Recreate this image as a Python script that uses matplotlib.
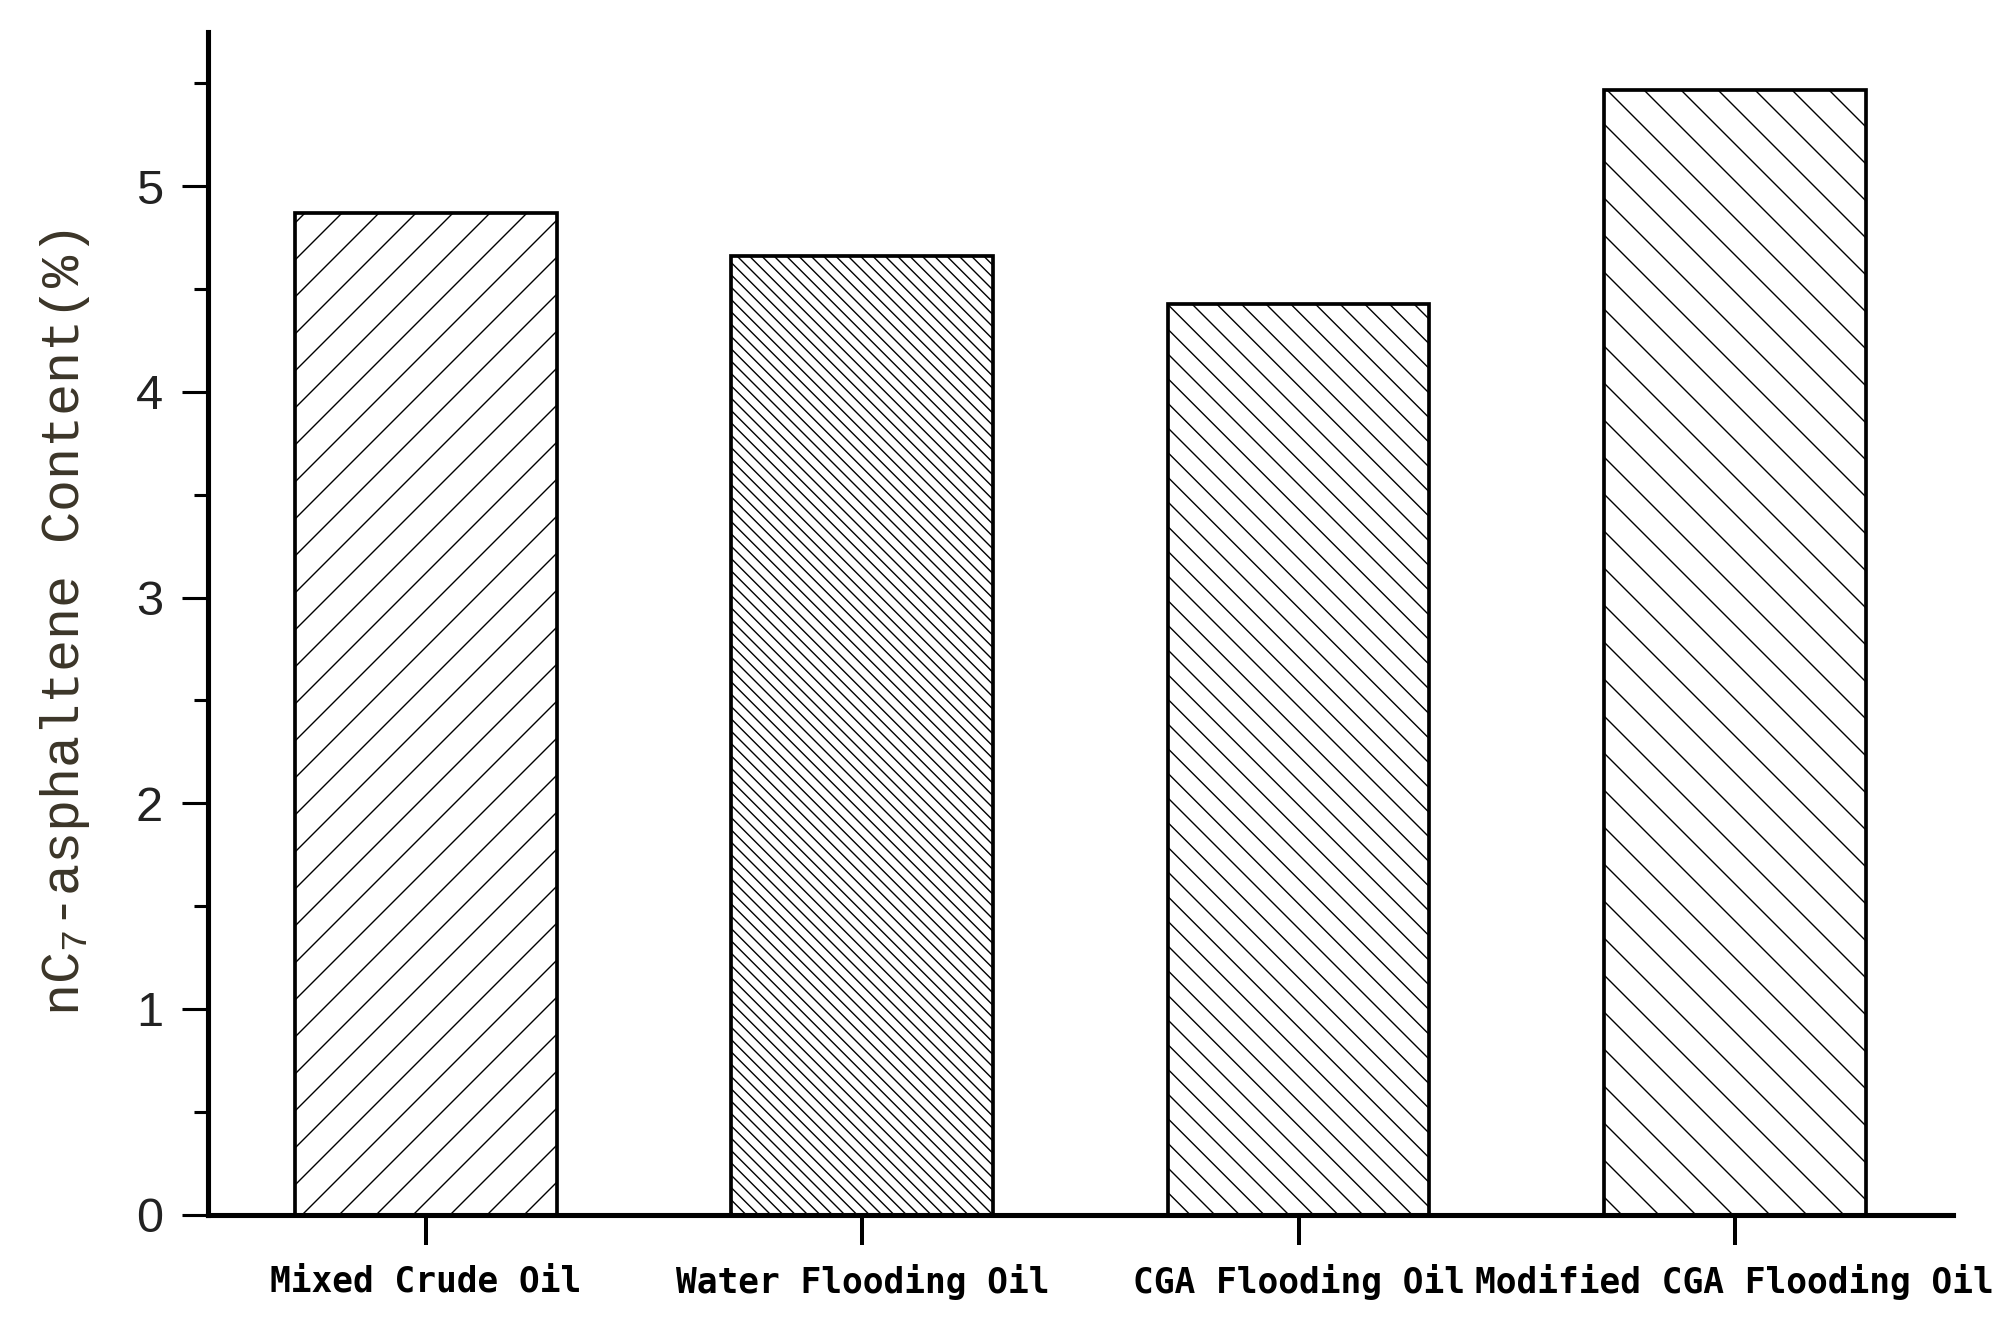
import matplotlib
matplotlib.use('Agg')
import matplotlib.pyplot as plt
import numpy as np
from matplotlib.ticker import MultipleLocator

# data
categories = ['Mixed Crude Oil', 'Water Flooding Oil', 'CGA Flooding Oil', 'Modified CGA Flooding Oil']
values = [4.87, 4.66, 4.43, 5.47]
hatches = ['//', '\\' * 6, '\\' * 3, '\\' * 2]

plt.rcParams['hatch.linewidth'] = 0.45
plt.rcParams['mathtext.default'] = 'regular'

dpi = 222
fig = plt.figure(figsize=(2015 / dpi, 1337 / dpi), dpi=dpi)
ax = fig.add_axes([0.1032, 0.0916, 0.866, 0.8844])

x = np.arange(len(categories))
bars = ax.bar(x, values, 0.6, color='white', edgecolor='black', linewidth=1.2)
for b, h in zip(bars, hatches):
    b.set_hatch(h)

ax.set_xlim(-0.5, 3.5)
ax.set_ylim(0, 5.75)

for s in ['top', 'right']:
    ax.spines[s].set_visible(False)
for s in ['left', 'bottom']:
    ax.spines[s].set_linewidth(1.65)

ax.set_yticks(range(6))
ax.yaxis.set_minor_locator(MultipleLocator(0.5))
ax.tick_params(axis='y', which='major', length=8.5, width=1, direction='out',
               labelsize=15.8, pad=6)
ax.tick_params(axis='y', which='minor', length=4.6, width=1, direction='out')
for lab in ax.get_yticklabels():
    lab.set_fontfamily('Liberation Sans')
    lab.set_color('#222222')

ax.set_xticks(x, categories, fontfamily='DejaVu Sans Mono', fontweight='bold', fontsize=11.2)
ax.tick_params(axis='x', length=9.7, width=1.3, direction='out', pad=6.5)

ax.set_ylabel('nC$_7$-asphaltene Content(%)', fontfamily='Liberation Mono',
              fontsize=17.3, color='#3b3528')
ax.yaxis.set_label_coords(-0.082, 0.5)
ax.yaxis.label.set_verticalalignment('center')

fig.savefig('out.png', dpi=dpi)
